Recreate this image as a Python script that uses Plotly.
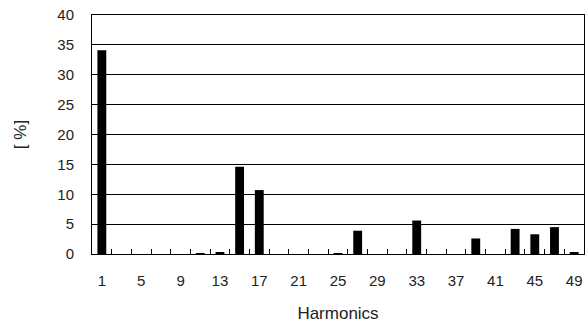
import plotly.graph_objects as go

harmonics = [1, 3, 5, 7, 9, 11, 13, 15, 17, 19, 21, 23, 25, 27, 29, 31, 33, 35, 37, 39, 41, 43, 45, 47, 49]
values = [34.1, 0, 0, 0, 0, 0.15, 0.2, 14.6, 10.7, 0, 0, 0, 0.15, 3.9, 0, 0, 5.6, 0, 0, 2.6, 0, 4.2, 3.3, 4.5, 0.2]
tick_labels = [1, 5, 9, 13, 17, 21, 25, 29, 33, 37, 41, 45, 49]
y_ticks = [0, 5, 10, 15, 20, 25, 30, 35, 40]

font = "Liberation Sans, Arial, sans-serif"

fig = go.Figure()
fig.add_trace(go.Bar(x=harmonics, y=values, width=0.9,
                     marker=dict(color="black", line=dict(width=0))))
# invisible trace so the boundary-tick axis is drawn
fig.add_trace(go.Scatter(x=[harmonics[0]], y=[0], xaxis="x2", mode="markers",
                         marker=dict(opacity=0), hoverinfo="skip"))

fig.update_layout(
    width=587, height=329,
    margin=dict(l=92, r=3, t=15, b=75),
    paper_bgcolor="white", plot_bgcolor="white",
    showlegend=False,
    font=dict(family=font, color="#222", size=15),
    xaxis=dict(
        range=[0, 50], tickmode="array", tickvals=tick_labels,
        ticktext=[str(t) for t in tick_labels],
        ticks="", showgrid=False, zeroline=False, automargin=False,
        showline=True, linecolor="black", linewidth=1, mirror=True,
        ticklabelstandoff=13,
        title=dict(text="Harmonics", font=dict(size=17, family=font, color="#222"), standoff=19),
    ),
    xaxis2=dict(
        range=[0, 50], overlaying="x", anchor="y", side="bottom",
        tickmode="linear", tick0=0, dtick=2, ticks="inside", ticklen=5,
        tickcolor="black", showticklabels=False, showgrid=False,
        zeroline=False, showline=False, automargin=False,
    ),
    yaxis=dict(
        range=[0, 40], tickmode="array", tickvals=y_ticks,
        showgrid=True, gridcolor="black", gridwidth=1, zeroline=False,
        showline=True, linecolor="black", linewidth=1, mirror=True,
        ticks="", ticklabelstandoff=14, automargin=False,
        title=dict(text="[ %]", font=dict(size=17, family=font, color="#222"), standoff=26),
    ),
)

fig.write_html("out.html", config={"displayModeBar": False},
               post_script="document.body.style.margin='0';")
